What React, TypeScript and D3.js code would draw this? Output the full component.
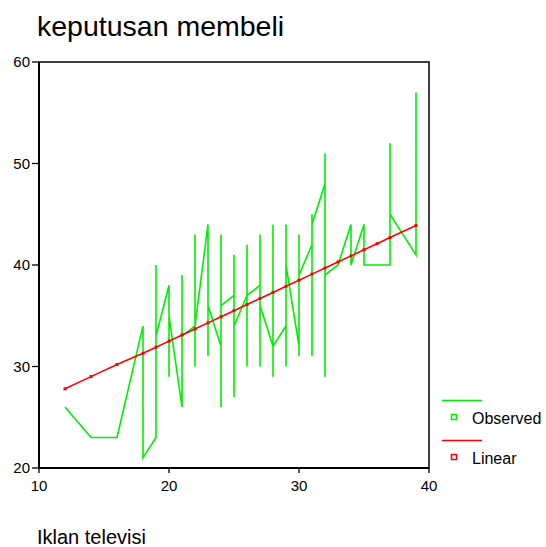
import React from "react";
import * as d3 from "d3";

const obsX = [12, 14, 16, 18, 18, 19, 19, 19, 20, 20, 20, 21, 21, 21, 22, 22, 22, 22, 23, 23, 23, 24, 24, 24, 24, 25, 25, 25, 25, 26, 26, 26, 26, 27, 27, 27, 27, 28, 28, 28, 28, 29, 29, 29, 29, 30, 30, 30, 30, 31, 31, 31, 31, 32, 32, 32, 32, 33, 34, 34, 35, 35, 36, 37, 37, 37, 39, 39];
const obsY = [26, 23, 23, 34, 21, 23, 40, 33, 38, 29, 35, 26, 39, 33, 34, 43, 30, 34, 44, 31, 36, 32, 43, 26, 36, 37, 41, 27, 34, 37, 42, 30, 37, 38, 43, 30, 36, 32, 44, 29, 32, 34, 44, 30, 40, 32, 43, 31, 39, 42, 45, 31, 44, 48, 51, 29, 39, 40, 44, 40, 44, 40, 40, 40, 52, 45, 41, 57];

const fitX = [12, 14, 16, 18, 19, 20, 21, 22, 23, 24, 25, 26, 27, 28, 29, 30, 31, 32, 33, 34, 35, 36, 37, 39];
const fitY = [27.8, 29.0, 30.2, 31.3, 31.9, 32.5, 33.1, 33.7, 34.3, 34.9, 35.5, 36.1, 36.7, 37.3, 37.9, 38.5, 39.1, 39.7, 40.3, 40.9, 41.5, 42.1, 42.7, 43.9];

const xTicks = [10, 20, 30, 40];
const yTicks = [20, 30, 40, 50, 60];

const GREEN = "#00ee00";
const RED = "#ff0000";
const FONT = "Liberation Sans, Arial, sans-serif";

export default function App() {
  const x = d3.scaleLinear().domain([10, 40]).range([39, 429]);
  const y = d3.scaleLinear().domain([20, 60]).range([468, 62]);

  const obsLine = d3
    .line<number>()
    .x((_, i) => x(obsX[i]))
    .y((d) => y(d));
  const fitLine = d3
    .line<number>()
    .x((_, i) => x(fitX[i]))
    .y((d) => y(d));

  return (
    <svg
      width={546}
      height={547}
      style={{ position: "absolute", left: 0, top: 0, background: "#fff" }}
      fontFamily={FONT}
    >
      <rect x={0} y={0} width={546} height={547} fill="#fff" />
      <text x={37} y={36} fontSize={28.5} fill="#000">
        keputusan membeli
      </text>

      {/* frame */}
      <rect x={x(10)} y={y(60)} width={x(40) - x(10)} height={y(20) - y(60)} fill="none" stroke="#000" strokeWidth={1.5} />
      <line x1={x(10)} x2={x(10)} y1={y(60)} y2={y(20)} stroke="#000" strokeWidth={2} />
      <line x1={x(10)} x2={x(40)} y1={y(20)} y2={y(20)} stroke="#000" strokeWidth={2} />

      {yTicks.map((t) => (
        <g key={"y" + t}>
          <line x1={x(10) - 7} x2={x(10)} y1={y(t)} y2={y(t)} stroke="#000" strokeWidth={1.3} />
          <text x={30} y={y(t)} dy="0.36em" textAnchor="end" fontSize={15} fill="#000">
            {t}
          </text>
        </g>
      ))}
      {xTicks.map((t) => (
        <g key={"x" + t}>
          <line x1={x(t)} x2={x(t)} y1={y(20)} y2={y(20) + 5} stroke="#000" strokeWidth={1.3} />
          <text x={x(t)} y={491} textAnchor="middle" fontSize={15} fill="#000">
            {t}
          </text>
        </g>
      ))}

      <path d={obsLine(obsY) || ""} fill="none" stroke={GREEN} strokeWidth={1.6} strokeLinejoin="miter" />
      <path d={fitLine(fitY) || ""} fill="none" stroke={RED} strokeWidth={1.6} />
      {fitY.map((v, i) => (
        <rect key={"m" + i} x={x(fitX[i]) - 1.5} y={y(v) - 1.5} width={3} height={3} fill={RED} />
      ))}

      <text x={37} y={544} fontSize={20} fill="#000">
        Iklan televisi
      </text>

      {/* legend */}
      <line x1={442} x2={482} y1={400.5} y2={400.5} stroke={GREEN} strokeWidth={1.5} />
      <rect x={451.5} y={414.5} width={5} height={5} fill="#fff" stroke={GREEN} strokeWidth={1.5} />
      <text x={472} y={424} fontSize={16} fill="#000">
        Observed
      </text>
      <line x1={442} x2={482} y1={440.5} y2={440.5} stroke={RED} strokeWidth={1.5} />
      <rect x={451.5} y={454.5} width={5} height={5} fill="#fff" stroke={RED} strokeWidth={1.5} />
      <text x={472} y={464} fontSize={16} fill="#000">
        Linear
      </text>
    </svg>
  );
}
